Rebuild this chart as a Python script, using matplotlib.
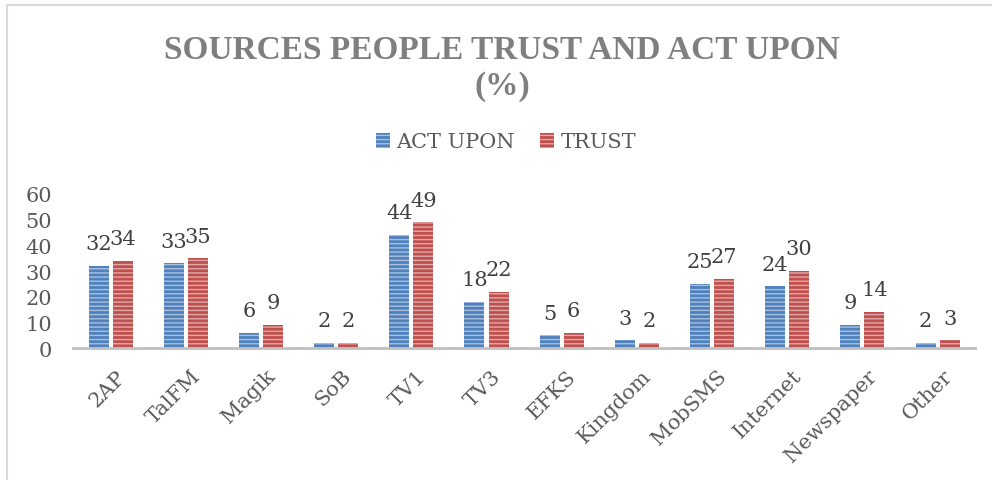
import matplotlib.pyplot as plt
import matplotlib.transforms as mtransforms
from matplotlib.patches import Patch
import numpy as np

# data
categories = ['2AP', 'TalFM', 'Magik', 'SoB', 'TV1', 'TV3', 'EFKS', 'Kingdom',
              'MobSMS', 'Internet', 'Newspaper', 'Other']
act_upon = [32, 33, 6, 2, 44, 18, 5, 3, 25, 24, 9, 2]
trust = [34, 35, 9, 2, 49, 22, 6, 2, 27, 30, 14, 3]

blue = '#4f81bd'
red = '#c0504d'
txt = '#595959'

plt.rcParams['font.family'] = ['DejaVu Serif']
plt.rcParams['hatch.linewidth'] = 1.0

fig = plt.figure(figsize=(9.92, 4.81), dpi=100)
ax = fig.add_axes([0.0736, 0.2744, 0.9094, 0.3202])

x = np.arange(len(categories))
w = 0.266
off = 0.16
b1 = ax.bar(x - off, act_upon, w, color=blue, edgecolor='#a7c0e0', hatch='----', linewidth=0)
b2 = ax.bar(x + off, trust, w, color=red, edgecolor='#e0a9a8', hatch='----', linewidth=0)

for bars, vals in [(b1, act_upon), (b2, trust)]:
    for r, v in zip(bars, vals):
        ax.annotate(str(v), (r.get_x() + r.get_width() / 2, v), xytext=(0, 12),
                    textcoords='offset points', ha='center', va='baseline',
                    fontsize=15, color='#404040')

ax.set_xlim(-0.5, len(categories) - 0.5)
ax.set_ylim(0, 60)
ax.set_yticks(range(0, 61, 10))
ax.tick_params(axis='y', length=0, pad=15, labelsize=15, labelcolor=txt)
ax.set_xticks(x)
ax.set_xticklabels(categories, rotation=45, ha='right', va='top', rotation_mode='anchor',
                   fontsize=15, color=txt)
ax.tick_params(axis='x', length=0, pad=13)
shift = mtransforms.ScaledTranslation(5 / 100, 0, fig.dpi_scale_trans)
for lbl in ax.get_xticklabels():
    lbl.set_transform(lbl.get_transform() + shift)
for s in ['top', 'right', 'left']:
    ax.spines[s].set_visible(False)
ax.spines['bottom'].set_color('#bfbfbf')
ax.spines['bottom'].set_linewidth(2)

fig.text(0.506, 0.895, 'SOURCES PEOPLE TRUST AND ACT UPON',
         ha='center', va='center', fontsize=24, fontweight='bold', color='#7f7f7f',
         family='Liberation Serif')
fig.text(0.506, 0.82, '(%)', ha='center', va='center', fontsize=24,
         fontweight='bold', color='#7f7f7f', family='Liberation Serif')

handles = [Patch(facecolor=blue, edgecolor='#a7c0e0', hatch='----', linewidth=0, label='ACT UPON'),
           Patch(facecolor=red, edgecolor='#e0a9a8', hatch='----', linewidth=0, label='TRUST')]
fig.legend(handles=handles, loc='center', bbox_to_anchor=(0.51, 1 - 143 / 481), ncol=2,
           frameon=False, fontsize=15, labelcolor=txt, handlelength=0.7, handleheight=0.7,
           handletextpad=0.3, columnspacing=1.2)

# chart frame
fig.add_artist(plt.Line2D([7 / 992, 7 / 992], [0, 1 - 6 / 481], color='#d9d9d9', lw=1.5))
fig.add_artist(plt.Line2D([7 / 992, 1], [1 - 6 / 481, 1 - 6 / 481], color='#d9d9d9', lw=1.5))

fig.savefig('out.png', dpi=100)
